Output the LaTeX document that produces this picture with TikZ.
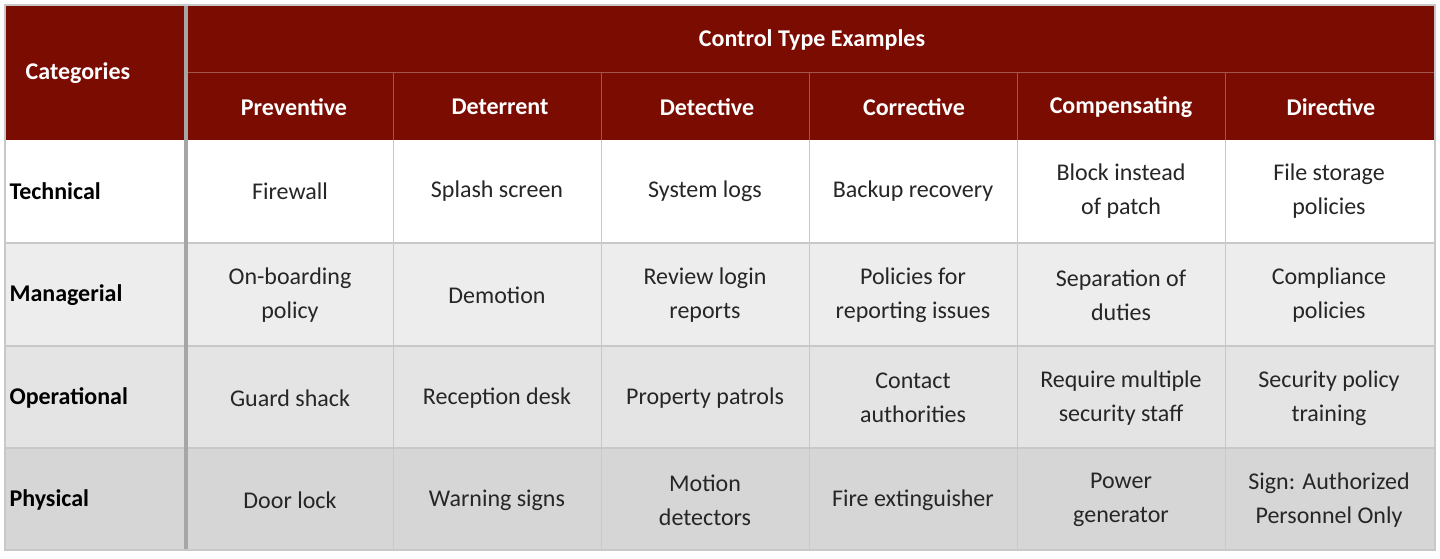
\documentclass[tikz,border=0pt]{standalone}
\usepackage{fontspec}
\setmainfont{Carlito}
\definecolor{hdr}{HTML}{7A0C02}
\definecolor{g1}{HTML}{EDEDED}
\definecolor{g2}{HTML}{E4E4E4}
\definecolor{g3}{HTML}{D6D6D6}
\definecolor{gl}{HTML}{C8C8C8}
\begin{document}
\begin{tikzpicture}[x=1pt,y=-1pt,
 cell/.style={align=center,font=\fontsize{24}{34}\selectfont,text=black!85},
 hd/.style={align=center,font=\fontsize{24}{30}\selectfont\bfseries,text=white},
 rl/.style={anchor=west,font=\fontsize{24}{30}\selectfont\bfseries,text=black}]
\useasboundingbox (0,0) rectangle (1440,558);
\fill[white] (0,0) rectangle (1440,558);
\fill[hdr] (5,5) rectangle (1435,140);
\fill[white] (5,140) rectangle (1435,243);
\fill[g1] (5,243) rectangle (1435,346);
\fill[g2] (5,346) rectangle (1435,448);
\fill[g3] (5,448) rectangle (1435,550);
% header grid
\draw[hdr!70!white,line width=1pt] (188,72) -- (1435,72);
\foreach \x in {393,601,809,1017,1225} \draw[hdr!70!white,line width=1pt] (\x,72) -- (\x,140);
% body grid
\foreach \y in {243,346,448} \draw[gl,line width=1.5pt] (5,\y) -- (1435,\y);
\foreach \x in {393,601,809,1017,1225} \draw[gl,line width=1pt] (\x,140) -- (\x,550);
\draw[gray!70,line width=4pt] (186,5) -- (186,550);
\draw[gl,line width=1.5pt] (5,5) rectangle (1435,550);
% headers
\node[hd] (cat) at (78,73) {Categories};
\node[hd] (cte) at (812,40) {Control Type Examples};
\node[hd] (h1) at (294,107) {Preventive};
\node[hd] (h2) at (500,107) {Deterrent};
\node[hd] (h3) at (707,107) {Detective};
\node[hd] (h4) at (914,107) {Corrective};
\node[hd] (h5) at (1121,107) {Compensating};
\node[hd] (h6) at (1331,107) {Directive};
% row labels
\node[rl] (r1) at (6,191) {Technical};
\node[rl] (r2) at (6,295) {Managerial};
\node[rl] (r3) at (6,398) {Operational};
\node[rl] (r4) at (6,500) {Physical};
% cells
\node[cell] at (290,191) {Firewall};
\node[cell] at (497,191) {Splash screen};
\node[cell] at (705,191) {System logs};
\node[cell] at (913,191) {Backup recovery};
\node[cell] at (1121,191) {Block instead\\of patch};
\node[cell] at (1329,191) {File storage\\policies};
\node[cell] at (290,295) {On-boarding\\policy};
\node[cell] at (497,295) {Demotion};
\node[cell] at (705,295) {Review login\\reports};
\node[cell] at (913,295) {Policies for\\reporting issues};
\node[cell] at (1121,295) {Separation of\\duties};
\node[cell] at (1329,295) {Compliance\\policies};
\node[cell] at (290,398) {Guard shack};
\node[cell] at (497,398) {Reception desk};
\node[cell] at (705,398) {Property patrols};
\node[cell] at (913,398) {Contact\\authorities};
\node[cell] at (1121,398) {Require multiple\\security staff};
\node[cell] at (1329,398) {Security policy\\training};
\node[cell] at (290,500) {Door lock};
\node[cell] at (497,500) {Warning signs};
\node[cell] at (705,500) {Motion\\detectors};
\node[cell] at (913,500) {Fire extinguisher};
\node[cell] at (1121,500) {Power\\generator};
\node[cell] at (1329,500) {Sign: Authorized\\Personnel Only};
\end{tikzpicture}
\end{document}
